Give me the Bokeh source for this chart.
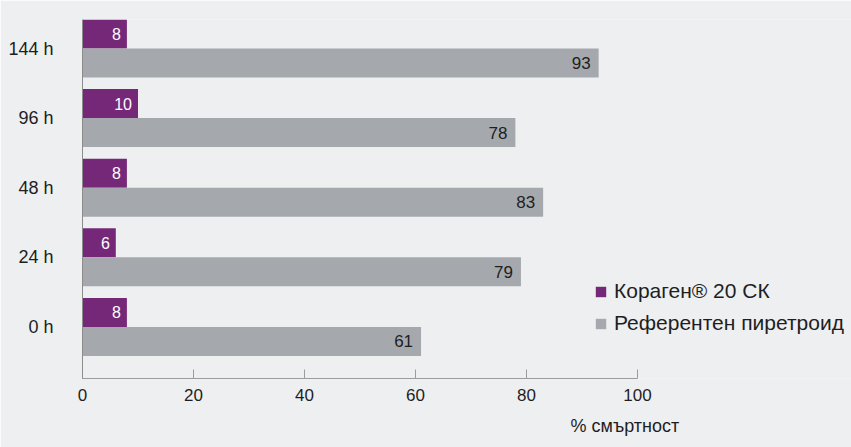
from bokeh.plotting import figure
from bokeh.models import (Range1d, FixedTicker, Legend, LegendItem, Title,
                          ColumnDataSource)
from bokeh.core.properties import value
from bokeh.embed import file_html
from bokeh.resources import INLINE

categories = ["0 h", "24 h", "48 h", "96 h", "144 h"]
coragen = [8, 6, 8, 10, 8]
reference = [61, 79, 83, 78, 93]
series_names = ["Кораген® 20 СК", "Референтен пиретроид"]
x_ticks = [0, 20, 40, 60, 80, 100]
x_title = "% смъртност"

PURPLE = "#762878"
GRAY = "#a5a9ad"
BG = "#eeeff1"
TXT = "#1e1e1e"
FONT = "Liberation Sans, Arial, sans-serif"

BAR_H = 0.4167
pos = list(range(len(categories)))
src_c = ColumnDataSource(dict(y=[i + BAR_H / 2 for i in pos], v=coragen,
                              t=[str(v) for v in coragen]))
src_r = ColumnDataSource(dict(y=[i - BAR_H / 2 for i in pos], v=reference,
                              t=[str(v) for v in reference]))

p = figure(width=851, height=447, output_backend="svg", toolbar_location=None,
           x_range=Range1d(0, 138.56), y_range=Range1d(-0.741, 4.4167),
           min_border_left=82, min_border_right=0, min_border_top=19,
           min_border_bottom=69)
p.background_fill_color = BG
p.border_fill_color = BG
p.outline_line_color = None
p.grid.visible = False

rc = p.hbar(y="y", left=0, right="v", height=BAR_H, source=src_c,
            fill_color=PURPLE, line_color=None)
rr = p.hbar(y="y", left=0, right="v", height=BAR_H, source=src_r,
            fill_color=GRAY, line_color=None)

p.text(x="v", y="y", text="t", source=src_c, x_offset=-6, text_align="right",
       text_baseline="middle", text_color="white", text_font=value(FONT),
       text_font_size="16px")
p.text(x="v", y="y", text="t", source=src_r, x_offset=-8, text_align="right",
       text_baseline="middle", text_color=TXT, text_font=value(FONT),
       text_font_size="17px")

xa = p.xaxis[0]
xa.ticker = FixedTicker(ticks=x_ticks)
xa.bounds = (0, 100)
xa.major_tick_in = 9
xa.major_tick_out = 0
xa.minor_tick_line_color = None
xa.axis_line_color = "#9c9c9c"
xa.major_tick_line_color = "#9c9c9c"
xa.major_label_standoff = 10
xa.major_label_text_font = FONT
xa.major_label_text_font_size = "17px"
xa.major_label_text_color = TXT

p.add_layout(Title(text=x_title, align="left", offset=488, standoff=20,
                   text_font=FONT, text_font_size="18px",
                   text_font_style="normal", text_color=TXT), "below")

ya = p.yaxis[0]
ya.ticker = FixedTicker(ticks=pos)
ya.major_label_overrides = {i: c for i, c in zip(pos, categories)}
ya.major_tick_line_color = None
ya.major_tick_in = 0
ya.major_tick_out = 0
ya.minor_tick_line_color = None
ya.axis_line_color = "#8c8c8c"
ya.major_label_standoff = 29
ya.major_label_text_font = FONT
ya.major_label_text_font_size = "18px"
ya.major_label_text_color = TXT

legend = Legend(items=[LegendItem(label=series_names[0], renderers=[rc]),
                       LegendItem(label=series_names[1], renderers=[rr])],
                location=(512, 43), glyph_width=13, glyph_height=13,
                label_standoff=7, spacing=8, padding=0, margin=0,
                border_line_color=None, background_fill_alpha=0,
                label_text_font=FONT, label_text_font_size="21px",
                label_text_color=TXT)
p.add_layout(legend)

open("out.html", "w").write(file_html(p, INLINE))
